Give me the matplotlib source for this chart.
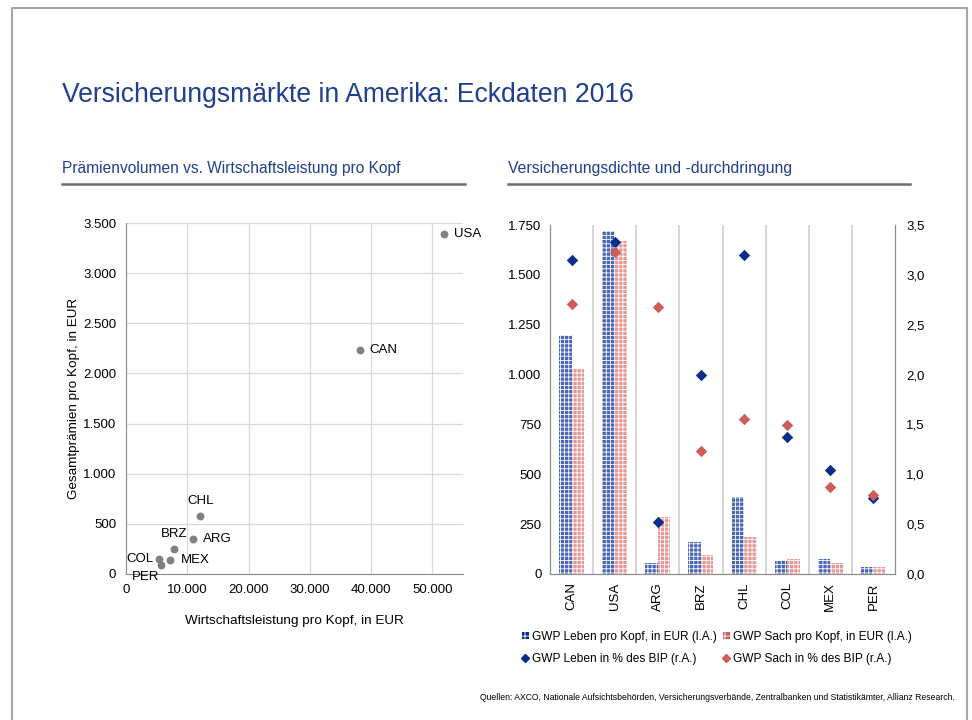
import numpy as np
import matplotlib
matplotlib.use("Agg")
import matplotlib.pyplot as plt
from matplotlib.ticker import FuncFormatter, MultipleLocator
from matplotlib.lines import Line2D
from matplotlib.patches import Patch

plt.rcParams['font.family'] = ['Liberation Sans', 'DejaVu Sans']
plt.rcParams['hatch.linewidth'] = 0.6

# Daten
laender_scatter = ["USA", "CAN", "CHL", "ARG", "BRZ", "MEX", "COL", "PER"]
bip_pro_kopf = [51900, 38150, 12150, 11000, 7900, 7250, 5400, 5700]
praemien_pro_kopf = [3390, 2230, 580, 350, 253, 140, 153, 90]

laender = ["CAN", "USA", "ARG", "BRZ", "CHL", "COL", "MEX", "PER"]
leben_kopf = [1200, 1720, 57, 159, 387, 67, 77, 37]
sach_kopf = [1029, 1670, 287, 97, 187, 77, 57, 37]
leben_bip = [3.15, 3.33, 0.52, 2.00, 3.20, 1.37, 1.04, 0.76]
sach_bip = [2.71, 3.23, 2.68, 1.23, 1.55, 1.49, 0.87, 0.79]

BLUE_T = "#1f3f8f"
GRAU = "#808080"
BLAU_D = "#0b2d8a"
ROT_D = "#cd5c5c"
BLAU_B = "#4866b8"
ROT_B = "#e69797"

fig = plt.figure(figsize=(9.72, 7.2), dpi=100)

def fx(px):
    return px / 972.0

def fy(py):
    return 1 - py / 720.0

# Rahmen
fig.add_artist(Line2D([fx(12), fx(12), fx(967), fx(967)], [0, fy(8), fy(8), 0],
                      color="#a6a6a6", lw=1.5, transform=fig.transFigure))

fig.text(fx(62), fy(95), "Versicherungsmärkte in Amerika: Eckdaten 2016",
         fontsize=19.1, color=BLUE_T, va="center", ha="left")
fig.text(fx(62), fy(168), "Prämienvolumen vs. Wirtschaftsleistung pro Kopf",
         fontsize=11.2, color=BLUE_T, va="center", ha="left")
fig.text(fx(508), fy(168), "Versicherungsdichte und -durchdringung",
         fontsize=11.3, color=BLUE_T, va="center", ha="left")
for x0, x1 in [(62, 465), (508, 910)]:
    fig.add_artist(Line2D([fx(x0), fx(x1)], [fy(184), fy(184)], color="#6e6e6e",
                          lw=1.8, transform=fig.transFigure))

de_int = FuncFormatter(lambda v, p: f"{v:,.0f}".replace(",", "."))
de_dec = FuncFormatter(lambda v, p: f"{v:.1f}".replace(".", ","))

# Streudiagramm
ax1 = fig.add_axes([fx(126), fy(574), fx(463 - 126), (574 - 223) / 720.0])
ax1.scatter(bip_pro_kopf, praemien_pro_kopf, s=32, color=GRAU, zorder=3, linewidths=0)
ax1.set_xlim(0, 55000)
ax1.set_ylim(0, 3500)
ax1.xaxis.set_major_locator(MultipleLocator(10000))
ax1.yaxis.set_major_locator(MultipleLocator(500))
ax1.xaxis.set_major_formatter(de_int)
ax1.yaxis.set_major_formatter(de_int)
ax1.grid(True, color="#d9d9d9", lw=0.9)
ax1.set_axisbelow(True)
for s in ["top", "right"]:
    ax1.spines[s].set_visible(False)
for s in ["left", "bottom"]:
    ax1.spines[s].set_color("#8c8c8c")
ax1.tick_params(length=0, labelsize=9.5, pad=7)
ax1.set_xlabel("Wirtschaftsleistung pro Kopf, in EUR", fontsize=9.7, labelpad=14)
ax1.set_ylabel("Gesamtprämien pro Kopf, in EUR", fontsize=9.7, labelpad=2)

offsets = {
    "USA": ((10, 0), "left", "center"),
    "CAN": ((10, 0), "left", "center"),
    "CHL": ((0, 9), "center", "bottom"),
    "ARG": ((10, 0), "left", "center"),
    "BRZ": ((0, 9), "center", "bottom"),
    "MEX": ((10, 0), "left", "center"),
    "COL": ((-6, 0), "right", "center"),
    "PER": ((-2, -12), "right", "center"),
}
for name, x, y in zip(laender_scatter, bip_pro_kopf, praemien_pro_kopf):
    off, ha, va = offsets[name]
    ax1.annotate(name, (x, y), xytext=off, textcoords="offset pixels",
                 ha=ha, va=va, fontsize=9.5, annotation_clip=False)

# Balkendiagramm
ax2 = fig.add_axes([fx(550), fy(574), fx(895 - 550), (574 - 225) / 720.0])
xs = np.arange(len(laender))
bw = 0.29
ax2.bar(xs - bw / 2, leben_kopf, bw, facecolor=BLAU_B, edgecolor="white",
        hatch="++++", lw=0, zorder=2)
ax2.bar(xs + bw / 2, sach_kopf, bw, facecolor=ROT_B, edgecolor="white",
        hatch="++++", lw=0, zorder=2)
ax2.set_xlim(-0.5, len(laender) - 0.5)
ax2.set_ylim(0, 1750)
ax2.yaxis.set_major_locator(MultipleLocator(250))
ax2.yaxis.set_major_formatter(de_int)
ax2.set_xticks(xs)
ax2.set_xticklabels(laender, rotation=90, fontsize=9.5)
for b in np.arange(0.5, len(laender) - 0.5, 1):
    ax2.axvline(b, color="#d0d0d0", lw=1.2, zorder=1)
ax2.spines["top"].set_visible(False)
for s in ["left", "right", "bottom"]:
    ax2.spines[s].set_color("#8c8c8c")
ax2.tick_params(axis="y", length=0, labelsize=9.5, pad=6)
ax2.tick_params(axis="x", length=0, labelsize=9.5, pad=6)

ax3 = ax2.twinx()
ax3.scatter(xs, leben_bip, marker="D", s=34, color=BLAU_D, zorder=4, linewidths=0)
ax3.scatter(xs, sach_bip, marker="D", s=34, color=ROT_D, zorder=4, linewidths=0)
ax3.set_ylim(0, 3.5)
ax3.yaxis.set_major_locator(MultipleLocator(0.5))
ax3.yaxis.set_major_formatter(de_dec)
ax3.spines["top"].set_visible(False)
for s in ["left", "right", "bottom"]:
    ax3.spines[s].set_color("#8c8c8c")
ax3.tick_params(length=0, labelsize=9.5, pad=8)

handles = [
    Patch(facecolor=BLAU_D, edgecolor="white", hatch="+++", lw=0),
    Line2D([], [], marker="D", ls="none", color=BLAU_D, markersize=4),
    Patch(facecolor=ROT_D, edgecolor="white", hatch="+++", lw=0),
    Line2D([], [], marker="D", ls="none", color=ROT_D, markersize=4),
]
labels = ["GWP Leben pro Kopf, in EUR (l.A.)", "GWP Leben in % des BIP (r.A.)",
          "GWP Sach pro Kopf, in EUR (l.A.)", "GWP Sach in % des BIP (r.A.)"]
fig.legend(handles, labels, ncol=2, frameon=False, fontsize=8.6,
           loc="center left", bbox_to_anchor=(fx(516), fy(648)),
           handlelength=0.55, handleheight=0.55, handletextpad=0.3,
           columnspacing=0.5, labelspacing=0.85, borderpad=0)

fig.text(fx(955), fy(698),
         "Quellen: AXCO, Nationale Aufsichtsbehörden, Versicherungsverbände, "
         "Zentralbanken und Statistikämter, Allianz Research.",
         fontsize=6.2, ha="right", va="center")

fig.savefig("out.png", dpi=100)
